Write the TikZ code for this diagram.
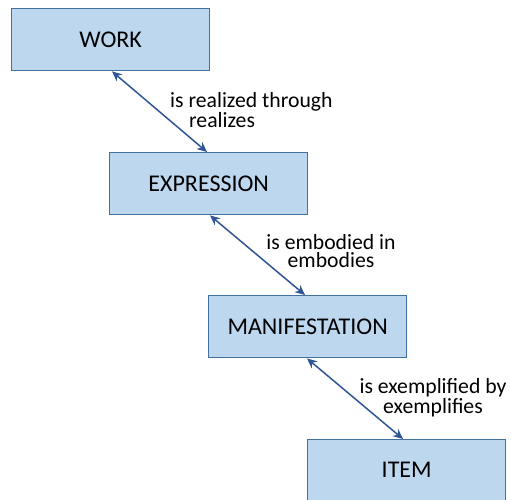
\documentclass[tikz,border=0pt]{standalone}
\usepackage{fontspec}
\setmainfont{Carlito}
\usetikzlibrary{arrows.meta,calc}
\definecolor{boxfill}{HTML}{BDD7EE}
\definecolor{boxline}{HTML}{41719C}
\definecolor{arrowcol}{HTML}{2F5597}
\tikzset{
  entity/.style={draw=boxline, line width=1.4pt, fill=boxfill, minimum width=198pt, minimum height=62pt, inner sep=0pt, font=\fontsize{24}{26}\selectfont, anchor=north west},
  rel/.style={draw=arrowcol, line width=1.5pt, {Stealth[length=10pt,width=9pt]}-{Stealth[length=10pt,width=9pt]}},
  lbl/.style={font=\fontsize{21.7}{18}\selectfont, inner sep=0pt, align=center}
}
\begin{document}
\begin{tikzpicture}[x=1pt,y=-1pt]
\useasboundingbox (0,0) rectangle (511,499);
\node[entity] (work) at (11,8) {WORK};
\node[entity] (expr) at (109,152) {EXPRESSION};
\node[entity] (manif) at (208,295) {MANIFESTATION};
\node[entity, minimum height=70pt] (item) at (307,439) {};
\node[font=\fontsize{24}{26}\selectfont] (itemtxt) at ($(item.north)+(0,31)$) {ITEM};
\coordinate (a1) at ($(work.south west)+(101,0)$);
\coordinate (b1) at ($(expr.north west)+(98,0)$);
\coordinate (a2) at ($(expr.south west)+(101,0)$);
\coordinate (b2) at ($(manif.north west)+(97,0)$);
\coordinate (a3) at ($(manif.south west)+(99,0)$);
\coordinate (b3) at ($(item.north west)+(96,0)$);
\draw[rel] (a1) -- (b1);
\draw[rel] (a2) -- (b2);
\draw[rel] (a3) -- (b3);
\node[lbl, align=left, anchor=west] (l1) at (170,110) {is realized through\\\hspace*{19pt}realizes};
\node[lbl] (l2) at (331,251) {is embodied in\\embodies};
\node[lbl] (l3) at (433,397.5) {is exemplified by\\exemplifies};
\end{tikzpicture}
\end{document}
